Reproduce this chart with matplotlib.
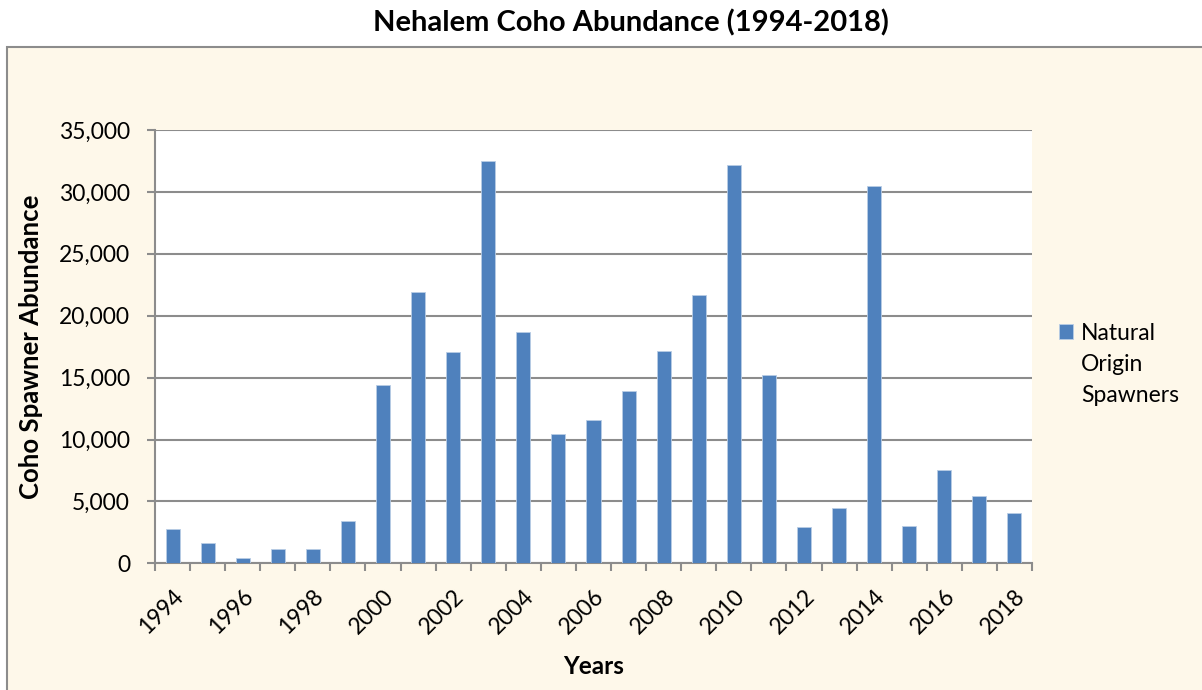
import numpy as np
import matplotlib
matplotlib.use("Agg")
import matplotlib.pyplot as plt
from matplotlib.patches import Rectangle
from matplotlib.ticker import FuncFormatter

years = list(range(1994, 2019))
spawners = [2800, 1600, 450, 1150, 1150, 3450, 14400, 21900, 17100, 32500,
            18700, 10450, 11600, 13950, 17150, 21700, 32200, 15250, 2900, 4450,
            30500, 3000, 7550, 5400, 4100]
year_labels = [str(y) if y % 2 == 0 else "" for y in years]
legend_lines = ["Natural", "Origin", "Spawners"]

plt.rcParams['font.family'] = ['Lato', 'DejaVu Sans']
W, H = 1202, 690

fig = plt.figure(figsize=(W / 100, H / 100), dpi=100)
fig.patch.set_facecolor("white")

# cream chart box (runs off the right and bottom edges like the original)
box = Rectangle((7 / W, -0.1), 1.2, 0.1 + (1 - 47 / H),
                transform=fig.transFigure, facecolor="#FEF8EA",
                edgecolor="#8C8C8C", linewidth=1.5, zorder=-5)
fig.patches.append(box)

fig.text(631 / W, 1 - 23 / H, "Nehalem Coho Abundance (1994-2018)",
         ha="center", va="center", fontsize=21, fontweight="bold")

ax = fig.add_axes([155 / W, 1 - 563.3 / H, (1032 - 155) / W, (563.3 - 130) / H])
ax.set_facecolor("white")

x = np.arange(len(years))
bars = ax.bar(x, spawners, width=0.4, color="#4F81BD", edgecolor="#B9CDE5",
              linewidth=0.6, zorder=3)

ax.set_xlim(-0.5, len(years) - 0.5)
ax.set_ylim(0, 35000)
ax.set_yticks(np.arange(0, 35001, 5000))
ax.yaxis.set_major_formatter(FuncFormatter(lambda v, p: f"{int(v):,}"))
ax.grid(axis="y", color="#8C8C8C", linewidth=1.5, zorder=1)

ax.set_xticks(x)
ax.set_xticklabels(year_labels, rotation=45, ha="right", rotation_mode="anchor")
ax.set_xticks(np.arange(-0.5, len(years)), minor=True)
ax.tick_params(axis="x", which="major", length=0, pad=16, labelsize=16.5)
ax.tick_params(axis="x", which="minor", length=6, width=1.5, color="#8C8C8C")
ax.tick_params(axis="y", length=6, width=1.5, color="#8C8C8C", labelsize=16.5, pad=12)

for side in ["top", "right"]:
    ax.spines[side].set_visible(False)
for side in ["left", "bottom"]:
    ax.spines[side].set_color("#8C8C8C")
    ax.spines[side].set_linewidth(1.5)

ax.set_xlabel("Years", fontsize=17.5, fontweight="bold")
ax.set_ylabel("Coho Spawner Abundance", fontsize=18.5, fontweight="bold")
ax.xaxis.set_label_coords(0.5, (563.3 - 655) / 433.3)
ax.yaxis.set_label_coords((43 - 155) / 877, 0.5)

# legend: square marker beside the first line, remaining lines stacked below
ax.legend([bars], [legend_lines[0]], loc="center left",
          bbox_to_anchor=(1059 / W, 1 - 333 / H), bbox_transform=fig.transFigure,
          frameon=False, fontsize=16.5, handlelength=0.62, handleheight=0.62,
          handletextpad=0.32, borderaxespad=0, borderpad=0)
for i, line in enumerate(legend_lines[1:], start=1):
    fig.text(1081 / W, 1 - (333 + 31.5 * i) / H, line, ha="left", va="center",
             fontsize=16.5)

fig.savefig("out.png", dpi=100)
